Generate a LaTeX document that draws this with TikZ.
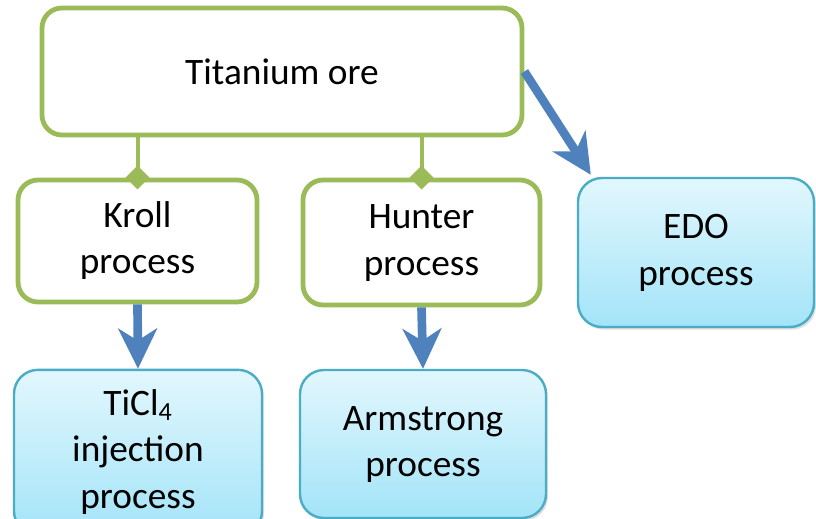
\documentclass[tikz,border=0pt]{standalone}
\usepackage{fontspec}
\setmainfont{Carlito}
\usetikzlibrary{arrows.meta,shapes.geometric,shadows,positioning}
\definecolor{leafgreen}{HTML}{9BBB59}
\definecolor{flowblue}{HTML}{4F81BD}
\definecolor{aquaedge}{HTML}{4BACC6}
\definecolor{aquatop}{HTML}{E2F7FD}
\definecolor{aquabot}{HTML}{A3E4F8}
% a stack of centred lines, set slightly below the box centre
\newcommand\droplines[2][2.5pt]{\raisebox{-#1}{\begin{tabular}{@{}c@{}}#2\end{tabular}}}
\begin{document}
\begin{tikzpicture}[x=0.75pt,y=-0.75pt,
  txt/.style={font=\fontsize{28}{35}\selectfont, align=center, text=black},
  greenbox/.style={txt, rectangle, rounded corners=15pt, draw=leafgreen,
    line width=3.6pt, fill=white, inner sep=0pt},
  aquabox/.style={txt, rectangle, rounded corners=18pt, draw=aquaedge,
    line width=1.8pt, top color=aquatop, bottom color=aquabot, inner sep=0pt,
    drop shadow={opacity=0.25, shadow xshift=1.5pt, shadow yshift=-2pt}},
  link/.style={draw=leafgreen, line width=3pt},
  knot/.style={diamond, fill=leafgreen, inner sep=0pt, minimum width=18pt, minimum height=18pt},
  flow/.style={draw=flowblue, line width=6.5pt,
    -{Stealth[length=30pt, width=29pt, inset=9pt]}}]
\useasboundingbox (0,0) rectangle (816,518);
\clip (0,0) rectangle (816,518);

% ore and the two chloride routes
\node[greenbox, minimum width=360pt, minimum height=95.25pt] (ore) at (282,71.5) {Titanium ore};
\node[greenbox, minimum width=179.25pt, minimum height=91.5pt] (kroll) at (137.5,241) {\droplines{Kroll\\process}};
\node[greenbox, minimum width=177.75pt, minimum height=93.75pt] (hunter) at (421.5,242.5) {\droplines{Hunter\\process}};

% downstream processes
\node[aquabox, minimum width=177pt, minimum height=111.75pt] (edo) at (696,252.5) {\droplines[3pt]{EDO\\process}};
\node[aquabox, minimum width=186pt, minimum height=124pt] (ticl) at (138,452.5) {\droplines[0pt]{TiCl\textsubscript{4}\\injection\\process}};
\node[aquabox, minimum width=184.5pt, minimum height=111pt] (arm) at (423,444) {\droplines[0pt]{Armstrong\\process}};

% green branches from the ore box
\draw[link] (ore.south -| kroll.north) -- (kroll.north);
\draw[link] (ore.south -| hunter.north) -- (hunter.north);
\node[knot] (k1) at (kroll.north) {};
\node[knot] (k2) at (hunter.north) {};

% blue flow arrows
\coordinate (edotip) at ([xshift=10.5pt, yshift=1.5pt]edo.north west);
\draw[flow] (ore.east) -- (edotip);
\draw[flow] (kroll.south) -- (ticl.north);
\draw[flow] (hunter.south) -- (arm.north);
\end{tikzpicture}
\end{document}
